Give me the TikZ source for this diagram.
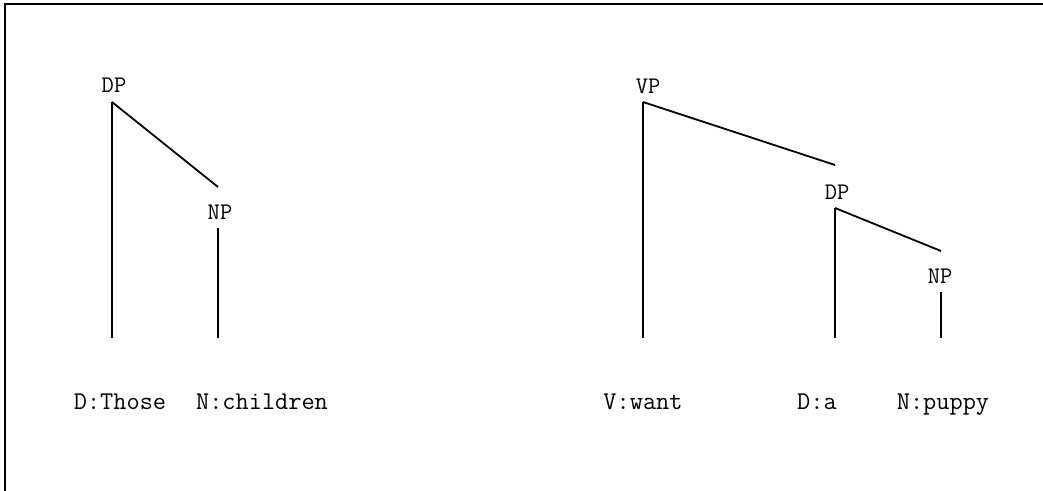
\documentclass[tikz,border=0pt]{standalone}
\tikzset{
  cat/.style={font=\ttfamily\fontsize{11.9}{13}\selectfont, inner sep=0pt},
  leaf/.style={font=\ttfamily\fontsize{12.8}{14}\selectfont, inner sep=0pt, anchor=base},
  branch/.style={line width=0.9pt}
}
\begin{document}
\begin{tikzpicture}[x=0.5pt,y=-0.5pt]
\useasboundingbox (0,0) rectangle (1043,491);
\draw[line width=1pt] (5,491)--(5,4)--(1043,4);
% left tree
\node[cat] (dp1) at (114,85) {DP};
\node[cat] (np1) at (220,212) {NP};
\coordinate (dp1-b) at (112,102);
\coordinate (np1-t) at (218,187);
\coordinate (np1-b) at (218,228);
\coordinate (those-t) at (112,338);
\coordinate (children-t) at (218,338);
\draw[branch] (dp1-b)--(np1-t);
\draw[branch] (dp1-b)--(those-t);
\draw[branch] (np1-b)--(children-t);
\node[leaf] (those) at (120,409) {D:Those};
\node[leaf] (children) at (262,409) {N:children};
% right tree
\node[cat] (vp) at (648,86) {VP};
\node[cat] (dp2) at (837,192) {DP};
\node[cat] (np2) at (940,276) {NP};
\coordinate (vp-b) at (643,102);
\coordinate (dp2-t) at (835,165);
\coordinate (dp2-b) at (835,208);
\coordinate (np2-t) at (941,251);
\coordinate (np2-b) at (941,292);
\coordinate (want-t) at (643,338);
\coordinate (a-t) at (835,338);
\coordinate (puppy-t) at (941,338);
\draw[branch] (vp-b)--(dp2-t);
\draw[branch] (vp-b)--(want-t);
\draw[branch] (dp2-b)--(np2-t);
\draw[branch] (dp2-b)--(a-t);
\draw[branch] (np2-b)--(puppy-t);
\node[leaf] (want) at (643,409) {V:want};
\node[leaf] (a) at (817,409) {D:a};
\node[leaf] (puppy) at (943,409) {N:puppy};
\end{tikzpicture}
\end{document}
